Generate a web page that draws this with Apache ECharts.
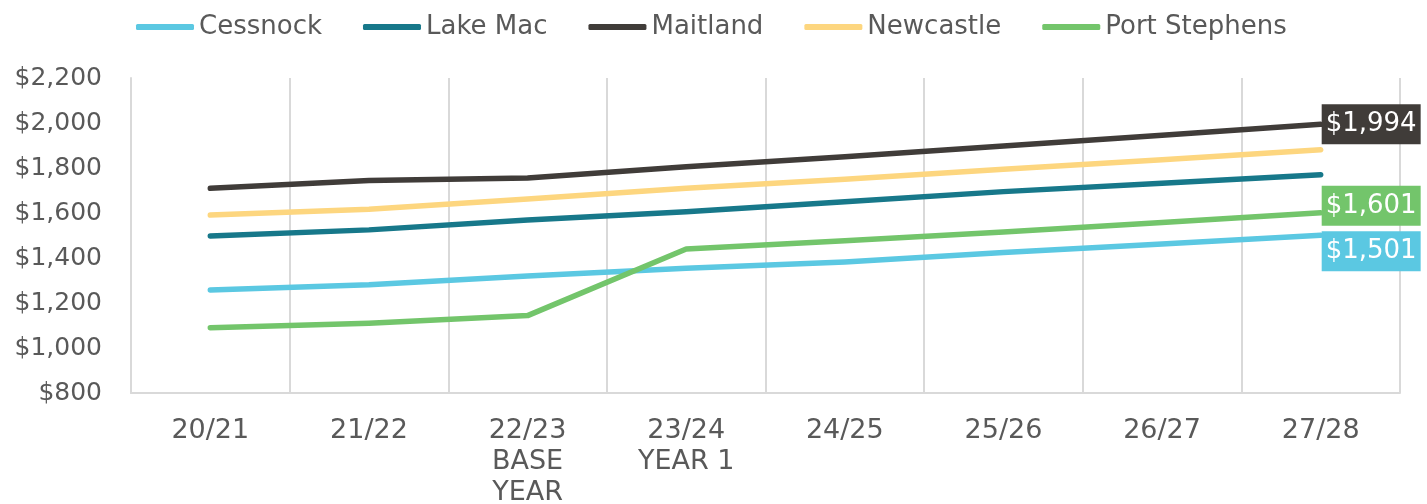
<!DOCTYPE html>
<html>
<head>
<meta charset="utf-8">
<style>
  html, body { margin: 0; padding: 0; background: #ffffff; }
  #chart { width: 1427px; height: 504px; }
</style>
<script src="https://cdn.jsdelivr.net/npm/echarts@6/dist/echarts.min.js"></script>
</head>
<body>
<div id="chart"></div>
<script>
// Financial years on the category axis
const categories = ['20/21', '21/22', '22/23\nBASE\nYEAR', '23/24\nYEAR 1', '24/25', '25/26', '26/27', '27/28'];

// Values per council area ($)
const cessnock     = [1258, 1281, 1320, 1354, 1382, 1424, 1462, 1501];
const lakeMac      = [1498, 1525, 1569, 1606, 1650, 1695, 1732, 1770];
const maitland     = [1710, 1744, 1756, 1806, 1850, 1898, 1946, 1994];
const newcastle    = [1591, 1617, 1662, 1710, 1750, 1794, 1837, 1881];
const portStephens = [1090, 1110, 1144, 1440, 1477, 1516, 1558, 1601];

// Value axis range
const yMin = 800;
const yMax = 2200;
const yStep = 200;

const FONT = 'DejaVu Sans';
const TEXT = '#595959';
const GRID = '#d9d9d9';

function money(v) {
  return '$' + Math.round(v).toLocaleString('en-US');
}

function endLabel(color, offsetY) {
  return {
    show: true,
    formatter: p => money(p.value),
    color: '#ffffff',
    backgroundColor: color,
    fontFamily: FONT,
    fontSize: 26,
    lineHeight: 30,
    padding: [5, 4, 5, 4],
    distance: 1,
    offset: [0, offsetY]
  };
}

function line(name, data, color, label) {
  const s = {
    name: name,
    type: 'line',
    data: data,
    symbol: 'none',
    smooth: false,
    lineStyle: { color: color, width: 5.5, cap: 'round', join: 'round' },
    itemStyle: { color: color }
  };
  if (label) s.endLabel = label;
  return s;
}

const chart = echarts.init(document.getElementById('chart'), null, { renderer: 'canvas' });

chart.setOption({
  animation: false,
  backgroundColor: '#ffffff',
  legend: {
    left: 131,
    top: 8,
    itemWidth: 58,
    itemHeight: 6,
    itemGap: 41,
    icon: 'roundRect',
    textStyle: { fontFamily: FONT, fontSize: 26, color: TEXT, lineHeight: 28 },
    data: ['Cessnock', 'Lake Mac', 'Maitland', 'Newcastle', 'Port Stephens']
  },
  // fixed plot rectangle; the three-line labels may sit close to the bottom edge
  grid: { left: 131, right: 27, top: 78, bottom: 111, containLabel: false, outerBoundsMode: 'none' },
  xAxis: {
    type: 'category',
    data: categories,
    boundaryGap: true,
    axisLine: { show: true, lineStyle: { color: GRID, width: 2 } },
    axisTick: { show: false },
    splitLine: { show: true, lineStyle: { color: GRID, width: 2 } },
    axisLabel: {
      interval: 0,
      margin: 22,
      fontFamily: FONT,
      fontSize: 27,
      lineHeight: 31,
      color: TEXT
    }
  },
  yAxis: {
    type: 'value',
    min: yMin,
    max: yMax,
    interval: yStep,
    axisLine: { show: true, lineStyle: { color: GRID, width: 2 } },
    axisTick: { show: false },
    splitLine: { show: false },
    axisLabel: {
      margin: 29,
      fontFamily: FONT,
      fontSize: 25,
      color: TEXT,
      formatter: v => money(v)
    }
  },
  series: [
    line('Cessnock', cessnock, '#5bc8e2', endLabel('#5bc8e2', 16)),
    line('Lake Mac', lakeMac, '#17788a'),
    line('Maitland', maitland, '#403c39', endLabel('#403c39', 0)),
    line('Newcastle', newcastle, '#fdd67f'),
    line('Port Stephens', portStephens, '#73c56b', endLabel('#73c56b', -7))
  ]
});
</script>
</body>
</html>
